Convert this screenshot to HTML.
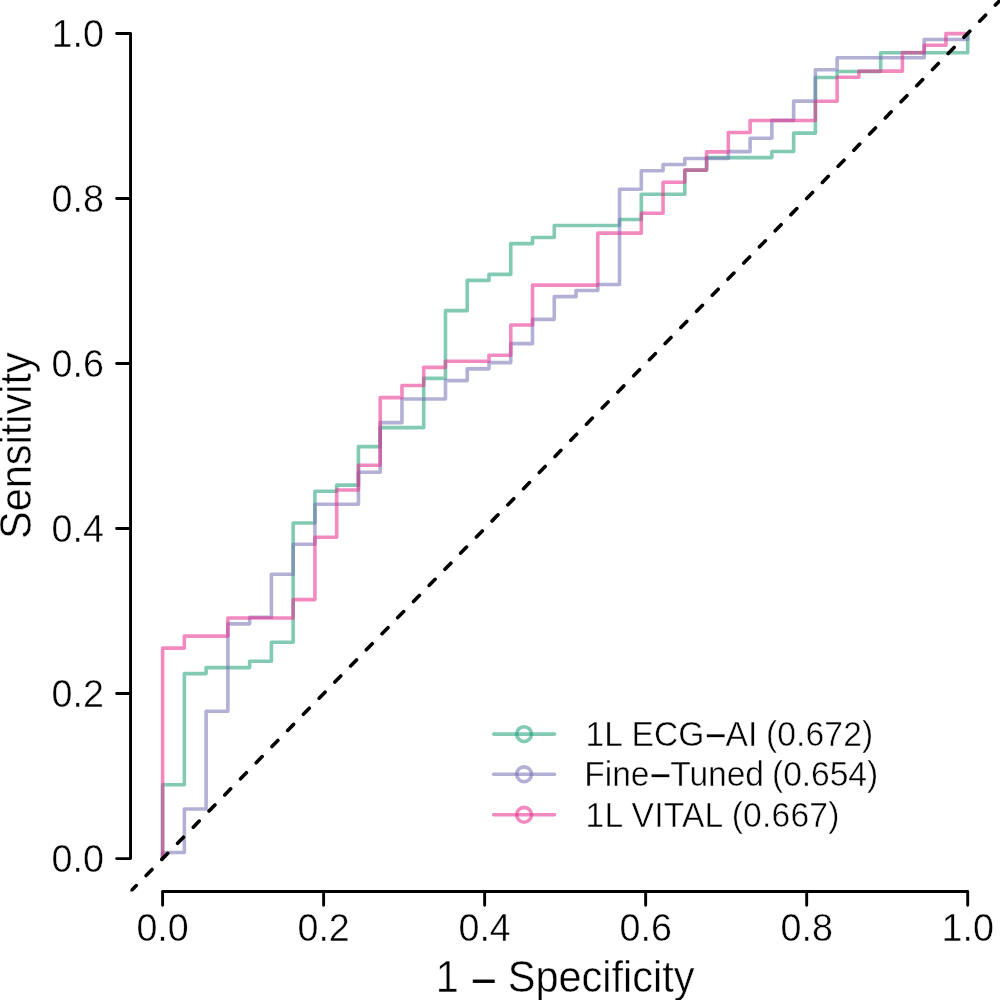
<!DOCTYPE html>
<html><head><meta charset="utf-8"><title>ROC</title>
<style>html,body{margin:0;padding:0;background:#fff}svg{display:block}text{font-family:"Liberation Sans",sans-serif}</style></head><body>
<svg width="1000" height="1000" viewBox="0 0 1000 1000">
<rect width="1000" height="1000" fill="#fff"/>
<defs><clipPath id="plot"><rect x="130.40" y="0" width="869.60" height="891.61"/></clipPath></defs>
<g fill="none" stroke="#000" stroke-width="2.90" stroke-linecap="round" stroke-linejoin="round">
<path d="M130.55 858.60V33.45M130.55 858.60H116.6M130.55 693.57H116.6M130.55 528.54H116.6M130.55 363.51H116.6M130.55 198.48H116.6M130.55 33.45H116.6"/>
<path d="M162.60 891.55H967.70M162.60 891.55V905.3M323.62 891.55V905.3M484.64 891.55V905.3M645.66 891.55V905.3M806.68 891.55V905.3M967.70 891.55V905.3"/>
</g>
<g clip-path="url(#plot)" fill="none" stroke-width="3.60" stroke-linecap="round" stroke-linejoin="round">
<path d="M162.60 858.60H162.60V784.75H184.36V673.60H206.12V667.60H249.64V661.30H271.40V642.20H293.16V523.00H314.92V491.20H336.68V485.10H358.44V446.60H380.19V427.65H423.71V378.40H445.47V310.65H467.23V280.40H488.99V274.40H510.75V243.65H532.51V237.55H554.27V225.55H619.55V219.45H641.31V194.25H684.83V170.10H706.59V157.60H771.86V151.50H793.62V133.10H815.38V77.50H837.14V71.50H880.66V52.70H967.70V33.45" stroke="#1B9E77" stroke-opacity="0.55"/>
<path d="M162.60 858.60H162.60V852.50H184.36V808.95H206.12V711.20H227.88V623.85H249.64V617.30H271.40V574.30H293.16V544.20H314.92V504.30H358.44V472.30H380.19V422.65H401.95V398.95H445.47V380.65H467.23V368.85H488.99V362.60H510.75V343.60H532.51V319.35H554.27V296.65H576.03V290.50H597.79V284.50H619.55V189.25H641.31V170.80H663.07V164.50H684.83V158.50H728.35V151.60H750.11V138.30H771.86V120.40H793.62V101.15H815.38V69.75H837.14V57.70H924.18V39.50H967.70V33.45" stroke="#7570B3" stroke-opacity="0.55"/>
<path d="M162.60 858.60H162.60V648.10H184.36V636.10H227.88V618.00H293.16V599.60H314.92V537.30H336.68V490.00H358.44V465.25H380.19V397.65H401.95V385.55H423.71V367.35H445.47V361.20H488.99V355.20H510.75V324.95H532.51V285.15H597.79V233.15H641.31V213.25H663.07V182.30H684.83V170.10H706.59V151.90H728.35V132.55H750.11V120.50H815.38V101.20H837.14V77.25H858.90V71.10H902.42V52.60H924.18V45.25H945.94V33.60H967.70V33.45" stroke="#E7298A" stroke-opacity="0.55"/>
<path d="M130.40 891.61L999.90 0.44" stroke="#000" stroke-width="3.60" stroke-dasharray="8.45 14.07"/>
</g>
<g fill="none" stroke="#1B9E77" stroke-opacity="0.55" stroke-width="3.60" stroke-linecap="round"><path d="M493.7 734.10H554.5"/><circle cx="524.1" cy="734.10" r="7.4"/></g>
<g fill="none" stroke="#7570B3" stroke-opacity="0.55" stroke-width="3.60" stroke-linecap="round"><path d="M493.7 774.30H554.5"/><circle cx="524.1" cy="774.30" r="7.4"/></g>
<g fill="none" stroke="#E7298A" stroke-opacity="0.55" stroke-width="3.60" stroke-linecap="round"><path d="M493.7 814.80H554.5"/><circle cx="524.1" cy="814.80" r="7.4"/></g>
<text transform="translate(585.50 746.00) scale(1 1.07)"  font-size="33.6" letter-spacing="0.15" fill="#000" stroke="#fff" stroke-width="0.45">1L ECG<tspan dy="3.00" dx="0.4" font-size="36.6" stroke="none">−</tspan><tspan dy="-3.00" dx="-1.0">AI<tspan dx="-1.2"> (</tspan>0.672)</tspan></text>
<text transform="translate(584.30 786.20) scale(1 1.07)"  font-size="33.6" letter-spacing="-0.05" fill="#000" stroke="#fff" stroke-width="0.45">Fine<tspan dy="3.00" dx="0.4" font-size="36.6" stroke="none">−</tspan><tspan dy="-3.00" dx="-1.0">Tuned<tspan dx="-1.2"> (</tspan>0.654)</tspan></text>
<text transform="translate(585.50 826.70) scale(1 1.07)"  font-size="33.6" letter-spacing="0.20" fill="#000" stroke="#fff" stroke-width="0.45">1L VITAL<tspan dx="-1.2"> (</tspan>0.667)</text>
<text transform="translate(103.9 872.40) scale(1 1.03)" text-anchor="end"  font-size="37.7" fill="#000" stroke="#fff" stroke-width="0.45">0.0</text>
<text transform="translate(103.9 707.37) scale(1 1.03)" text-anchor="end"  font-size="37.7" fill="#000" stroke="#fff" stroke-width="0.45">0.2</text>
<text transform="translate(103.9 542.34) scale(1 1.03)" text-anchor="end"  font-size="37.7" fill="#000" stroke="#fff" stroke-width="0.45">0.4</text>
<text transform="translate(103.9 377.31) scale(1 1.03)" text-anchor="end"  font-size="37.7" fill="#000" stroke="#fff" stroke-width="0.45">0.6</text>
<text transform="translate(103.9 212.28) scale(1 1.03)" text-anchor="end"  font-size="37.7" fill="#000" stroke="#fff" stroke-width="0.45">0.8</text>
<text transform="translate(103.9 47.25) scale(1 1.03)" text-anchor="end"  font-size="37.7" fill="#000" stroke="#fff" stroke-width="0.45">1.0</text>
<text transform="translate(162.60 940.8) scale(1 1.03)" text-anchor="middle"  font-size="37.7" fill="#000" stroke="#fff" stroke-width="0.45">0.0</text>
<text transform="translate(323.62 940.8) scale(1 1.03)" text-anchor="middle"  font-size="37.7" fill="#000" stroke="#fff" stroke-width="0.45">0.2</text>
<text transform="translate(484.64 940.8) scale(1 1.03)" text-anchor="middle"  font-size="37.7" fill="#000" stroke="#fff" stroke-width="0.45">0.4</text>
<text transform="translate(645.66 940.8) scale(1 1.03)" text-anchor="middle"  font-size="37.7" fill="#000" stroke="#fff" stroke-width="0.45">0.6</text>
<text transform="translate(806.68 940.8) scale(1 1.03)" text-anchor="middle"  font-size="37.7" fill="#000" stroke="#fff" stroke-width="0.45">0.8</text>
<text transform="translate(967.70 940.8) scale(1 1.03)" text-anchor="middle"  font-size="37.7" fill="#000" stroke="#fff" stroke-width="0.45">1.0</text>
<text transform="translate(565.2 991.8) scale(1 1.06)" text-anchor="middle"  font-size="41.5" fill="#000" stroke="#fff" stroke-width="0.45">1 <tspan dy="4.60" dx="0.4" font-size="45.2" stroke="none">−</tspan><tspan dy="-4.60" dx="-1.0"> Specificity</tspan></text>
<text transform="translate(31.0 445.6) rotate(-90) scale(1 1.06)" text-anchor="middle"  font-size="41.5" fill="#000" stroke="#fff" stroke-width="0.45">Sensitivity</text>
</svg></body></html>
